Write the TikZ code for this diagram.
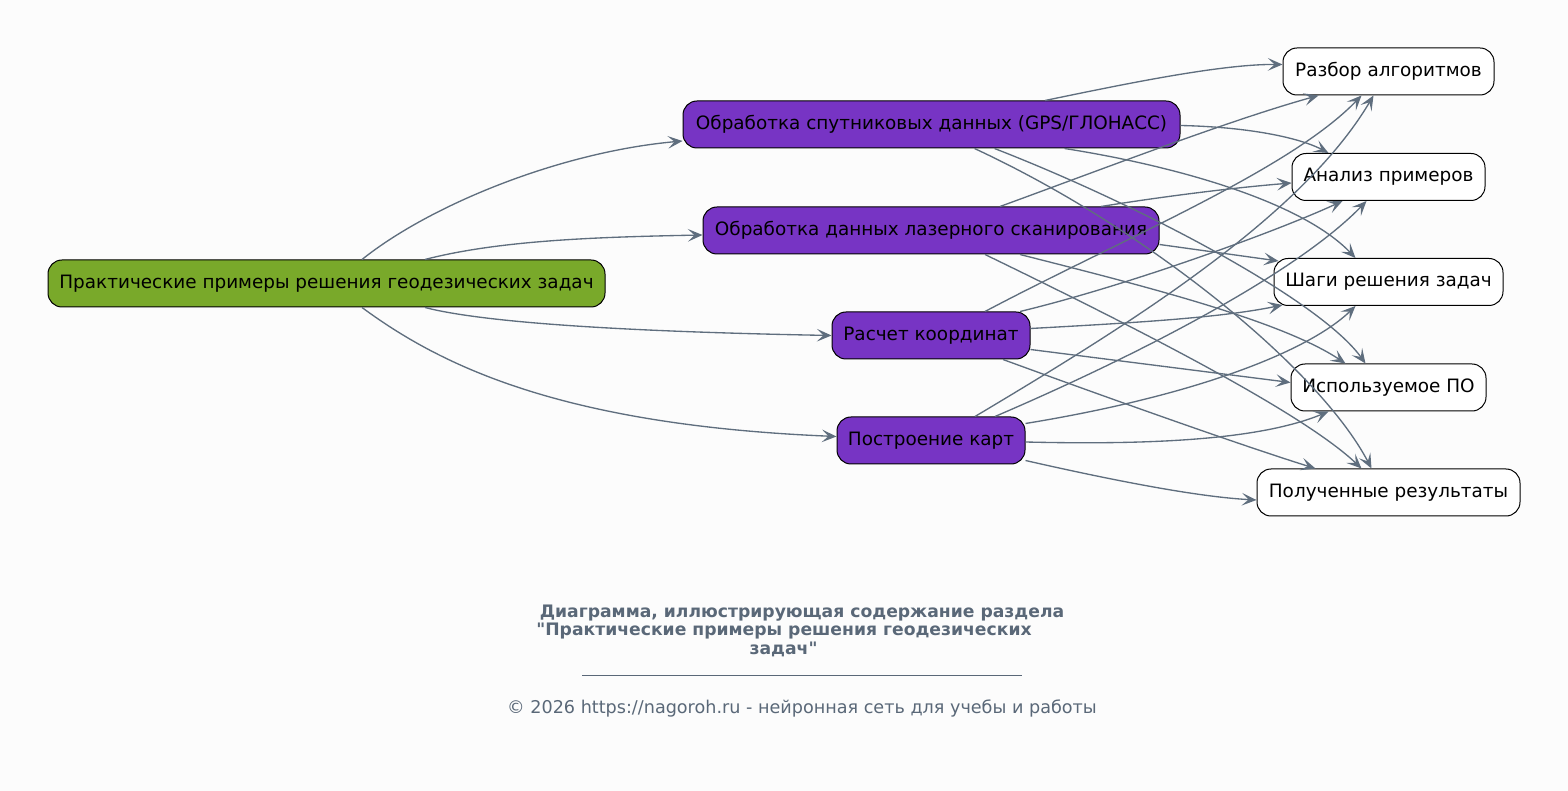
\documentclass[tikz,border=0pt]{standalone}
\usepackage{fontspec}
\setmainfont{DejaVu Sans}[Ligatures=TeXOff]
\usetikzlibrary{arrows.meta,calc}
\definecolor{bgc}{HTML}{FCFCFC}
\definecolor{edgec}{HTML}{5F6E7E}
\definecolor{purp}{HTML}{7734C4}
\definecolor{grn}{HTML}{79A92A}
\definecolor{titlec}{HTML}{5A6878}
\tikzset{
  box/.style={draw=black, line width=0.75pt, rounded corners=10.5pt, minimum height=35.25pt, inner sep=2pt, font=\fontsize{13.8}{15}\selectfont, text=black},
  rootbox/.style={box, fill=grn},
  midbox/.style={box, fill=purp},
  leafbox/.style={box, fill=white},
  conn/.style={draw=edgec, line width=1pt, -{Stealth[length=11pt,width=9.5pt,inset=5pt]}},
  ttl/.style={text=titlec, font=\fontsize{12.9}{15}\selectfont\bfseries, inner sep=0pt},
  foot/.style={text=titlec, font=\fontsize{13.2}{15}\selectfont, inner sep=0pt}
}
\begin{document}
\begin{tikzpicture}[x=0.75pt,y=-0.75pt]
\fill[bgc] (0,0) rectangle (1568,791);
\useasboundingbox (0,0) rectangle (1568,791);

\node[rootbox, minimum width=417.75pt] (root) at (326.5,283.5) {Практические примеры решения геодезических задач};
\node[midbox, minimum width=372.75pt] (m1) at (931.5,124.5) {Обработка спутниковых данных (GPS/ГЛОНАСС)};
\node[midbox, minimum width=342pt] (m2) at (931,230.5) {Обработка данных лазерного сканирования};
\node[midbox, minimum width=148.5pt] (m3) at (931,335.5) {Расчет координат};
\node[midbox, minimum width=141pt] (m4) at (931,440.5) {Построение карт};
\node[leafbox, minimum width=158.25pt] (r1) at (1388.5,71.5) {Разбор алгоритмов};
\node[leafbox, minimum width=144.75pt] (r2) at (1388.5,177) {Анализ примеров};
\node[leafbox, minimum width=171.75pt] (r3) at (1388.5,282) {Шаги решения задач};
\node[leafbox, minimum width=146.25pt] (r4) at (1388.5,387.5) {Используемое ПО};
\node[leafbox, minimum width=197.25pt] (r5) at (1388.5,492.5) {Полученные результаты};

% root edges
\draw[conn] ($(root.north)+(35.5,0)$) .. controls (430,205) and (560,152) .. ($(m1.west)+(0,16.5)$);
\draw[conn] ($(root.north)+(98.5,0)$) .. controls (500,240) and (600,237) .. ($(m2.west)+(0,4.5)$);
\draw[conn] ($(root.south)+(98.5,0)$) .. controls (500,327) and (700,333) .. ($(m3.west)+(0,0)$);
\draw[conn] ($(root.south)+(35.5,0)$) .. controls (440,365) and (560,425) .. ($(m4.west)+(0,-4)$);

% m1 edges
\draw[conn] ($(m1.north)+(113.5,0)$) .. controls (1120,85) and (1220,64) .. ($(r1.west)+(0,-7)$);
\draw[conn] ($(m1.east)+(0,1)$) .. controls (1250,127) and (1300,138) .. ($(r2.north)+(-60,0)$);
\draw[conn] ($(m1.south)+(133,0)$) .. controls (1170,165) and (1300,200) .. ($(r3.north)+(-33,0)$);
\draw[conn] ($(m1.south)+(63,0)$) .. controls (1140,205) and (1320,300) .. ($(r4.north)+(-23,0)$);
\draw[conn] ($(m1.south)+(43,0)$) .. controls (1150,230) and (1320,370) .. ($(r5.north)+(-17,0)$);

% m2 edges
\draw[conn] ($(m2.north)+(69,0)$) .. controls (1100,170) and (1230,120) .. ($(r1.south)+(-70,0)$);
\draw[conn] ($(m2.north)+(170,0)$) .. controls (1160,197) and (1230,188) .. ($(r2.west)+(0,6)$);
\draw[conn] ($(m2.east)+(0,14)$) -- ($(r3.north west)+(5,3)$);
\draw[conn] ($(m2.south)+(89,0)$) .. controls (1140,285) and (1280,320) .. ($(r4.north)+(-43,0)$);
\draw[conn] ($(m2.south)+(54,0)$) .. controls (1120,320) and (1300,410) .. ($(r5.north)+(-27,0)$);

% m3 edges
\draw[conn] ($(m3.north)+(54,0)$) .. controls (1120,240) and (1290,170) .. ($(r1.south)+(-27,0)$);
\draw[conn] ($(m3.north)+(89,0)$) .. controls (1130,285) and (1280,230) .. ($(r2.south)+(-46,0)$);
\draw[conn] ($(m3.east)+(0,-7)$) .. controls (1130,323) and (1220,318) .. ($(r3.south west)+(9,-1)$);
\draw[conn] ($(m3.east)+(0,14)$) -- ($(r4.west)+(0,-5)$);
\draw[conn] ($(m3.south)+(72,0)$) .. controls (1100,395) and (1240,445) .. ($(r5.north)+(-73,0)$);

% m4 edges
\draw[conn] ($(m4.north)+(44,0)$) .. controls (1120,330) and (1300,220) .. ($(r1.south)+(-15,0)$);
\draw[conn] ($(m4.north)+(64,0)$) .. controls (1150,350) and (1300,270) .. ($(r2.south)+(-22,0)$);
\draw[conn] ($(m4.east)+(0,-17)$) .. controls (1200,395) and (1310,350) .. ($(r3.south)+(-33,0)$);
\draw[conn] ($(m4.east)+(0,1.5)$) .. controls (1150,445) and (1260,440) .. ($(r4.south)+(-60,0)$);
\draw[conn] ($(m4.east)+(0,20)$) .. controls (1120,482) and (1200,497) .. ($(r5.west)+(0,7.5)$);

% title
\node[ttl] (t1) at (802,613) {Диаграмма, иллюстрирующая содержание раздела};
\node[ttl] (t2) at (784,631) {"Практические примеры решения геодезических};
\node[ttl] (t3) at (783.5,649) {задач"};
\coordinate (ra) at (582,675);
\coordinate (rb) at (1022,675);
\draw[titlec, line width=0.5pt] (ra) -- (rb);
\node[foot] (ft) at (802,708) {© 2026 https://nagoroh.ru - нейронная сеть для учебы и работы};
\end{tikzpicture}
\end{document}
